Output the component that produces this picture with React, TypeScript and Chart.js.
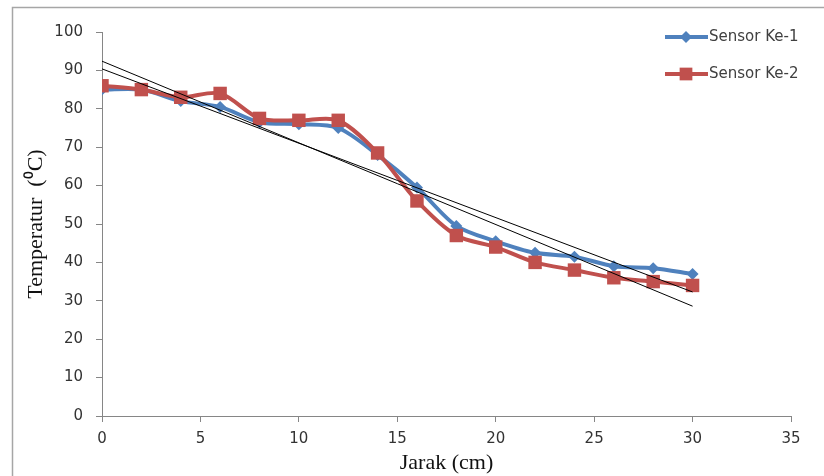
import React, { useEffect, useRef } from "react";
import { Chart, registerables } from "chart.js";

Chart.register(...registerables);

const distances = [0, 2, 4, 6, 8, 10, 12, 14, 16, 18, 20, 22, 24, 26, 28, 30];
const sensor1 = [85, 85, 82, 80.5, 76.5, 76, 75, 68, 59.5, 49.5, 45.5, 42.5, 41.5, 39, 38.5, 37];
const sensor2 = [86, 85, 83, 84, 77.5, 77, 77, 68.5, 56, 47, 44, 40, 38, 36, 35, 34];
const trendX = [0, 30];
const trend1 = [90.4, 32.3];
const trend2 = [92.4, 28.6];
const seriesNames = ["Sensor Ke-1", "Sensor Ke-2"];
const seriesColors = ["#4F81BD", "#C0504D"];
const xTitle = "Jarak (cm)";
const yTitle = "Temperatur  (\u2070C)";

const toPoints = (xs: number[], ys: number[]) => xs.map((x, i) => ({ x, y: ys[i] }));

function drawMarker(ctx: CanvasRenderingContext2D, style: string, r: number, x: number, y: number) {
  ctx.beginPath();
  if (style === "rectRot") {
    ctx.moveTo(x - r, y);
    ctx.lineTo(x, y - r);
    ctx.lineTo(x + r, y);
    ctx.lineTo(x, y + r);
    ctx.closePath();
  } else {
    const s = Math.SQRT1_2 * r;
    ctx.rect(x - s, y - s, 2 * s, 2 * s);
  }
  ctx.fill();
}

const frameAndLegend = {
  id: "frameAndLegend",
  afterDraw(chart: any) {
    const ctx = chart.ctx;
    ctx.save();
    ctx.strokeStyle = "#A6A6A6";
    ctx.lineWidth = 1.5;
    ctx.strokeRect(12.5, 7.5, 900, 600);
    const items = [
      { y: 37, style: "rectRot", radius: 6 },
      { y: 74, style: "rect", radius: 9 },
    ];
    items.forEach((it, i) => {
      ctx.strokeStyle = seriesColors[i];
      ctx.lineWidth = 4;
      ctx.beginPath();
      ctx.moveTo(665, it.y);
      ctx.lineTo(708, it.y);
      ctx.stroke();
      ctx.fillStyle = seriesColors[i];
      drawMarker(ctx, it.style, it.radius, 686, it.y);
      ctx.fillStyle = "#404040";
      ctx.font = "15px 'DejaVu Sans'";
      ctx.textAlign = "left";
      ctx.textBaseline = "middle";
      ctx.fillText(seriesNames[i], 709, it.y);
    });
    ctx.restore();
  },
};

export default function App() {
  const ref = useRef<HTMLCanvasElement | null>(null);
  useEffect(() => {
    if (!ref.current) return;
    const axisColor = "#868686";
    const chart = new Chart(ref.current, {
      type: "line",
      data: {
        datasets: [
          {
            label: "trend1",
            data: toPoints(trendX, trend1),
            borderColor: "#000000",
            borderWidth: 1,
            pointRadius: 0,
            order: 0,
          },
          {
            label: "trend2",
            data: toPoints(trendX, trend2),
            borderColor: "#000000",
            borderWidth: 1,
            pointRadius: 0,
            order: 0,
          },
          {
            label: seriesNames[1],
            data: toPoints(distances, sensor2),
            borderColor: seriesColors[1],
            backgroundColor: seriesColors[1],
            borderWidth: 4,
            pointStyle: "rect",
            pointRadius: 9.5,
            pointBorderWidth: 0,
            tension: 0.3,
            order: 1,
          },
          {
            label: seriesNames[0],
            data: toPoints(distances, sensor1),
            borderColor: seriesColors[0],
            backgroundColor: seriesColors[0],
            borderWidth: 4,
            pointStyle: "rectRot",
            pointRadius: 6,
            pointBorderWidth: 0,
            tension: 0.3,
            order: 2,
          },
        ],
      },
      options: {
        responsive: false,
        animation: false,
        layout: { padding: { left: 0, right: 33, top: 32, bottom: 0 } },
        plugins: { legend: { display: false }, tooltip: { enabled: false } },
        scales: {
          x: {
            type: "linear",
            min: 0,
            max: 35,
            afterFit: (s: any) => {
              s.height = 60;
            },
            ticks: { stepSize: 5, padding: 8, color: "#333333", font: { family: "DejaVu Sans", size: 15 } },
            grid: { drawOnChartArea: false, drawTicks: true, tickLength: 6, color: axisColor },
            border: { display: true, color: axisColor, width: 1 },
            title: {
              display: true,
              text: xTitle,
              color: "#111111",
              font: { family: "Liberation Serif", size: 22 },
              padding: { top: 0, bottom: 0 },
            },
          },
          y: {
            min: 0,
            max: 100,
            afterFit: (s: any) => {
              s.width = 102;
            },
            ticks: { stepSize: 10, padding: 13, color: "#333333", font: { family: "DejaVu Sans", size: 15 } },
            grid: { drawOnChartArea: false, drawTicks: true, tickLength: 6, color: axisColor },
            border: { display: true, color: axisColor, width: 1 },
            title: {
              display: true,
              text: yTitle,
              color: "#111111",
              font: { family: "Liberation Serif", size: 22 },
              padding: { top: 23, bottom: 0 },
            },
          },
        },
      },
      plugins: [frameAndLegend],
    });
    return () => chart.destroy();
  }, []);
  return (
    <div style={{ position: "fixed", left: 0, top: 0, width: 824, height: 476, background: "#ffffff" }}>
      <canvas ref={ref} width={824} height={476} />
    </div>
  );
}
